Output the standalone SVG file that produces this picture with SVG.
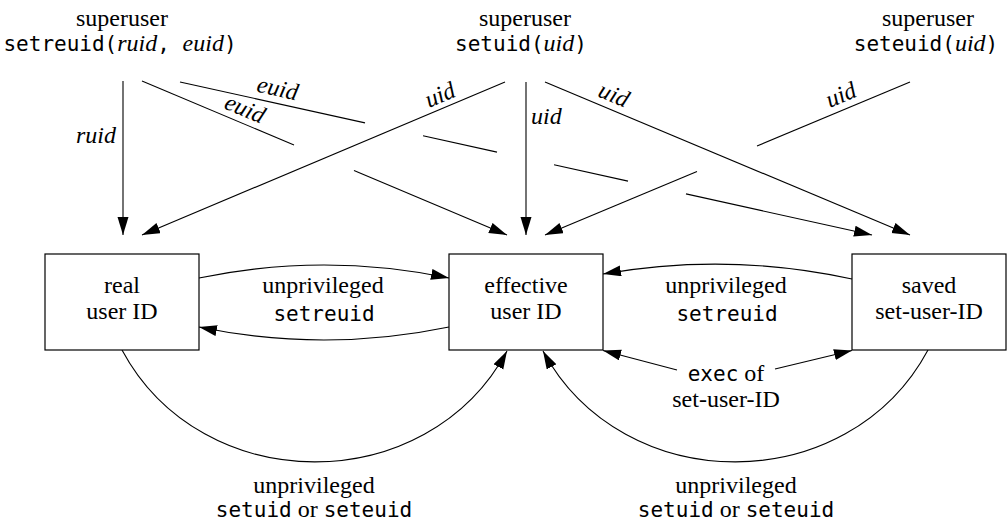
<svg xmlns="http://www.w3.org/2000/svg" width="1007" height="523" viewBox="0 0 1007 523">
<style>
.s{font-family:"Liberation Serif","Times New Roman",serif;font-size:24px;fill:#000}
.i{font-family:"Liberation Serif","Times New Roman",serif;font-style:italic;font-size:24px}
.m{font-family:"DejaVu Sans Mono","Liberation Mono",monospace;font-size:21px}
.c{text-anchor:middle}
.box{fill:#fff;stroke:#000;stroke-width:1.2}
.ln{fill:none;stroke:#000;stroke-width:1.1}
</style>
<defs>
<marker id="ah" markerUnits="userSpaceOnUse" markerWidth="19" markerHeight="12" refX="18" refY="5.5" orient="auto">
<path d="M0,0 L18,5.5 L0,11 Z" fill="#000"/>
</marker>
</defs>
<rect width="1007" height="523" fill="#fff"/>

<g id="src-setreuid">
<text class="s c" x="122" y="26">superuser</text>
<text class="s c" x="120" y="51"><tspan class="m">setreuid(</tspan><tspan class="i">ruid</tspan><tspan class="m">, </tspan><tspan class="i">euid</tspan><tspan class="m">)</tspan></text>
</g>
<g id="src-setuid">
<text class="s c" x="525" y="26">superuser</text>
<text class="s c" x="521" y="51"><tspan class="m">setuid(</tspan><tspan class="i">uid</tspan><tspan class="m">)</tspan></text>
</g>
<g id="src-seteuid">
<text class="s c" x="928" y="26">superuser</text>
<text class="s c" x="926" y="51"><tspan class="m">seteuid(</tspan><tspan class="i">uid</tspan><tspan class="m">)</tspan></text>
</g>

<g id="connectors">
<!-- ruid -->
<path class="ln" d="M123,81 L123,235" marker-end="url(#ah)"/>
<text class="s i" x="116" y="143" text-anchor="end">ruid</text>
<!-- euid to effective -->
<path class="ln" d="M142,81 L294,145"/>
<path class="ln" d="M354,170.5 L507,235" marker-end="url(#ah)"/>
<text class="s i c" transform="translate(242,116) rotate(22.9)">euid</text>
<!-- euid to saved -->
<path class="ln" d="M180,82 L365,122.9"/>
<path class="ln" d="M423,135.7 L497,152.1"/>
<path class="ln" d="M554,164.7 L628,181.1"/>
<path class="ln" d="M686,193.9 L872,235" marker-end="url(#ah)"/>
<text class="s i c" transform="translate(276,96) rotate(12.5)">euid</text>
<!-- setuid uid to real -->
<path class="ln" d="M505,82 L142,235" marker-end="url(#ah)"/>
<text class="s i c" transform="translate(443,102) rotate(-22.9)">uid</text>
<!-- setuid uid vertical -->
<path class="ln" d="M526,82 L526,235" marker-end="url(#ah)"/>
<text class="s i" x="531" y="124">uid</text>
<!-- setuid uid to saved -->
<path class="ln" d="M545,82 L910,235" marker-end="url(#ah)"/>
<text class="s i c" transform="translate(611,102) rotate(22.8)">uid</text>
<!-- seteuid uid to effective -->
<path class="ln" d="M910,82 L757,146"/>
<path class="ln" d="M697,171.5 L545,235" marker-end="url(#ah)"/>
<text class="s i c" transform="translate(844,102) rotate(-22.8)">uid</text>

<!-- unprivileged setreuid real <-> effective -->
<path class="ln" d="M199,278 Q324,252 449,278" marker-end="url(#ah)"/>
<path class="ln" d="M449,327 Q324,353 199,327" marker-end="url(#ah)"/>
<text class="s c" x="323" y="293">unprivileged</text>
<text class="m c" x="324" y="321">setreuid</text>
<!-- unprivileged setreuid saved -> effective -->
<path class="ln" d="M852,279 Q728,252 603,274" marker-end="url(#ah)"/>
<text class="s c" x="726" y="293">unprivileged</text>
<text class="m c" x="727" y="321">setreuid</text>
<!-- exec of set-user-ID -->
<path class="ln" d="M677,370 L603,350.5" marker-end="url(#ah)"/>
<path class="ln" d="M775,369 L852,350.5" marker-end="url(#ah)"/>
<text class="s c" x="726" y="381"><tspan class="m">exec</tspan> of</text>
<text class="s c" x="726" y="407">set-user-ID</text>
<!-- bottom arcs -->
<path class="ln" d="M122,350 C202,499 427,499 507,351" marker-end="url(#ah)"/>
<text class="s c" x="314" y="493">unprivileged</text>
<text class="s c" x="314" y="517"><tspan class="m">setuid</tspan> or <tspan class="m">seteuid</tspan></text>
<path class="ln" d="M928,350 C848,499 623,499 543,351" marker-end="url(#ah)"/>
<text class="s c" x="736" y="493">unprivileged</text>
<text class="s c" x="736" y="517"><tspan class="m">setuid</tspan> or <tspan class="m">seteuid</tspan></text>
</g>

<g id="real">
<rect class="box" x="45" y="254" width="154" height="96"/>
<text class="s c" x="122" y="293">real</text>
<text class="s c" x="122" y="319">user ID</text>
</g>
<g id="effective">
<rect class="box" x="449" y="254" width="154" height="96"/>
<text class="s c" x="526" y="293">effective</text>
<text class="s c" x="526" y="319">user ID</text>
</g>
<g id="saved">
<rect class="box" x="852" y="254" width="154" height="96"/>
<text class="s c" x="929" y="293">saved</text>
<text class="s c" x="929" y="319">set-user-ID</text>
</g>
</svg>
